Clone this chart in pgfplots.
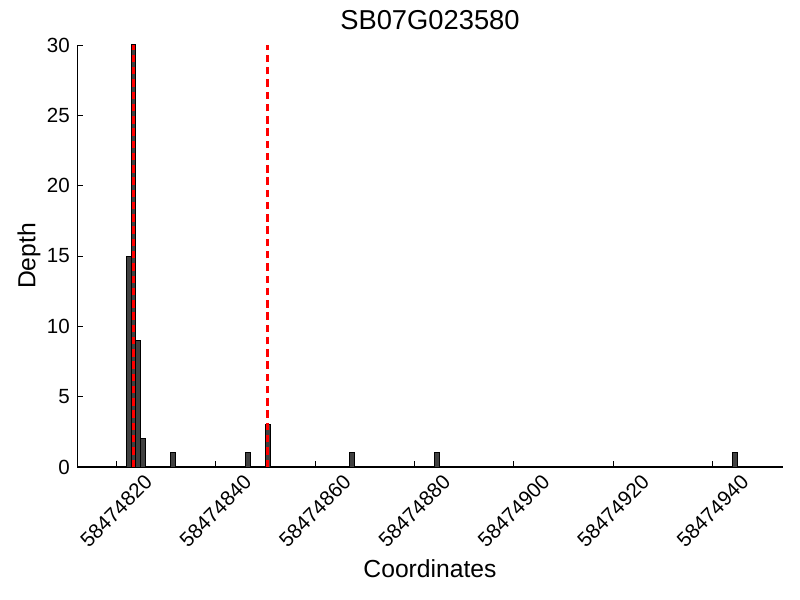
\documentclass[border=0pt]{standalone}
\usepackage{fontspec}
\setmainfont{Liberation Sans}
\usepackage{pgfplots}
\pgfplotsset{compat=1.18}
\definecolor{barfill}{RGB}{64,64,64}
\begin{document}
\begin{tikzpicture}
\useasboundingbox (0,0) rectangle (600pt,450pt);
\begin{axis}[
  at={(58pt,99.75pt)}, anchor=south west,
  scale only axis, width=529pt, height=316.5pt,
  xmin=12.2, xmax=154.1, ymin=0, ymax=30,
  axis x line*=bottom, axis y line*=left,
  axis line style={-, line width=0.8pt, black},
  tick align=inside, major tick length=4.5pt,
  tick style={black, line width=0.6pt},
  xtick={20,40,60,80,100,120,140},
  xticklabels={58474820,58474840,58474860,58474880,58474900,58474920,58474940},
  ytick={0,5,10,15,20,25,30},
  /pgf/number format/assume math mode=true,
  ticklabel style={font=\fontsize{15.4}{18}\selectfont},
  xticklabel style={yshift=-33pt, rotate=45, anchor=center, inner sep=0pt},
  yticklabel style={inner sep=0pt, xshift=-5.5pt, anchor=east},
  title={SB07G023580},
  title style={font=\fontsize{20.5}{24}\selectfont, at={(axis description cs:0.5,1)}, anchor=base, yshift=5.25pt},
  xlabel={Coordinates},
  xlabel style={font=\fontsize{18.5}{22}\selectfont, at={(axis description cs:0.5,-0.2607)}, anchor=base},
  ylabel={Depth},
  ylabel style={font=\fontsize{18.5}{22}\selectfont, at={(axis description cs:-0.0596,0.5)}, anchor=base, rotate=0},
  clip=false,
]
\addplot[ybar, bar width=1, fill=barfill, draw=black, line width=0.75pt]
  coordinates {(22.5,15) (23.5,30) (24.5,9) (25.5,2) (31.5,1) (46.5,1) (50.5,3) (67.5,1) (84.5,1) (144.5,1)};
\addplot[red, line width=2.1pt, dash pattern=on 5.6pt off 3.6pt] coordinates {(23.5,0) (23.5,30)};
\addplot[red, line width=2.1pt, dash pattern=on 5.6pt off 3.6pt] coordinates {(50.5,0) (50.5,30)};
\end{axis}
\end{tikzpicture}
\end{document}
